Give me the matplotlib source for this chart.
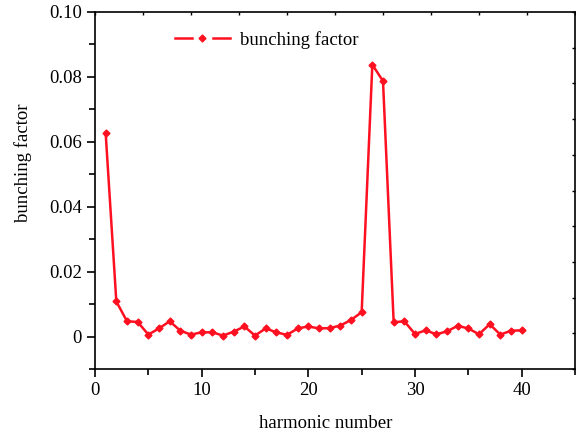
import matplotlib
matplotlib.use("Agg")
import matplotlib.pyplot as plt
from matplotlib.lines import Line2D
from matplotlib.legend_handler import HandlerLine2D
import numpy as np

harmonic = list(range(1, 41))
bunching = [0.0627, 0.0108, 0.0047, 0.0045, 0.0006, 0.0025, 0.0047, 0.0018, 0.0006, 0.0013,
            0.0013, 0.0003, 0.0015, 0.0031, 0.0003, 0.0025, 0.0013, 0.0005, 0.0025, 0.0031,
            0.0025, 0.0026, 0.0034, 0.0051, 0.0075, 0.0838, 0.0787, 0.0044, 0.0047, 0.0008,
            0.0019, 0.0007, 0.0016, 0.0033, 0.0025, 0.0007, 0.0038, 0.0006, 0.0018, 0.0019]
xticks = [0, 10, 20, 30, 40]
yticks = [0, 0.02, 0.04, 0.06, 0.08, 0.10]
yticklabels = ["0", "0.02", "0.04", "0.06", "0.08", "0.10"]

plt.rcParams['font.family'] = ['Liberation Serif', 'DejaVu Serif']
FS = 13.5
fig = plt.figure(figsize=(5.76, 4.33), dpi=100)
ax = fig.add_axes([95/576, 1-369/433, 480/576, 357/433])

color = '#ff1020'
ax.plot(harmonic, bunching, color=color, lw=1.8, marker='D', ms=3.5,
        mec=color, mfc=color, label='bunching factor')
ax.set_xlim(0, 45)
ax.set_ylim(-0.01, 0.10)
ax.set_xticks(xticks)
ax.set_xticks(np.arange(0, 46, 5), minor=True)
ax.set_yticks(yticks)
ax.set_yticklabels(yticklabels)
ax.set_yticks(np.arange(-0.01, 0.1001, 0.01), minor=True)
ax.tick_params(axis='both', which='major', direction='out', length=6, width=1.2,
               labelsize=FS, top=False, right=False)
ax.tick_params(axis='both', which='minor', direction='out', length=4, width=1.2,
               top=False, right=False)
for s in ax.spines.values():
    s.set_linewidth(1.2)

ax.set_xlabel('harmonic number', fontsize=FS)
ax.set_ylabel('bunching factor', fontsize=FS)
ax.xaxis.set_label_coords(0.480, -0.128)
ax.yaxis.set_label_coords(-0.131, 0.577)

# top/right inward tick marks (10 equal divisions)
axt = ax.twiny()
axt.set_xlim(0, 10)
axt.set_xticks(range(11))
axt.tick_params(axis='x', direction='in', length=2.5, width=1, labeltop=False)
axr = ax.twinx()
axr.set_ylim(0, 10)
axr.set_yticks(range(11))
axr.tick_params(axis='y', direction='in', length=2.5, width=1, labelright=False)
for a in (axt, axr):
    for s in a.spines.values():
        s.set_visible(False)


class HandlerGap(HandlerLine2D):
    def create_artists(self, legend, orig_handle, xdescent, ydescent, width,
                       height, fontsize, trans):
        y = height / 2 - ydescent
        x0 = -xdescent
        x1 = x0 + width
        xm = (x0 + x1) / 2
        g = width * 0.19
        kw = dict(color=orig_handle.get_color(), lw=orig_handle.get_linewidth())
        l1 = Line2D([x0, xm - g], [y, y], **kw)
        l2 = Line2D([xm + g, x1], [y, y], **kw)
        m = Line2D([xm], [y], ls='none', marker=orig_handle.get_marker(),
                   ms=orig_handle.get_markersize(), color=orig_handle.get_color())
        for a in (l1, l2, m):
            a.set_transform(trans)
        return [l1, l2, m]


leg = ax.legend(loc='center left', bbox_to_anchor=(0.1667, 0.9216), frameon=False,
                fontsize=FS, handlelength=2.93, handletextpad=0.55,
                borderpad=0, borderaxespad=0,
                handler_map={Line2D: HandlerGap()})

fig.savefig('out.png', dpi=100)
